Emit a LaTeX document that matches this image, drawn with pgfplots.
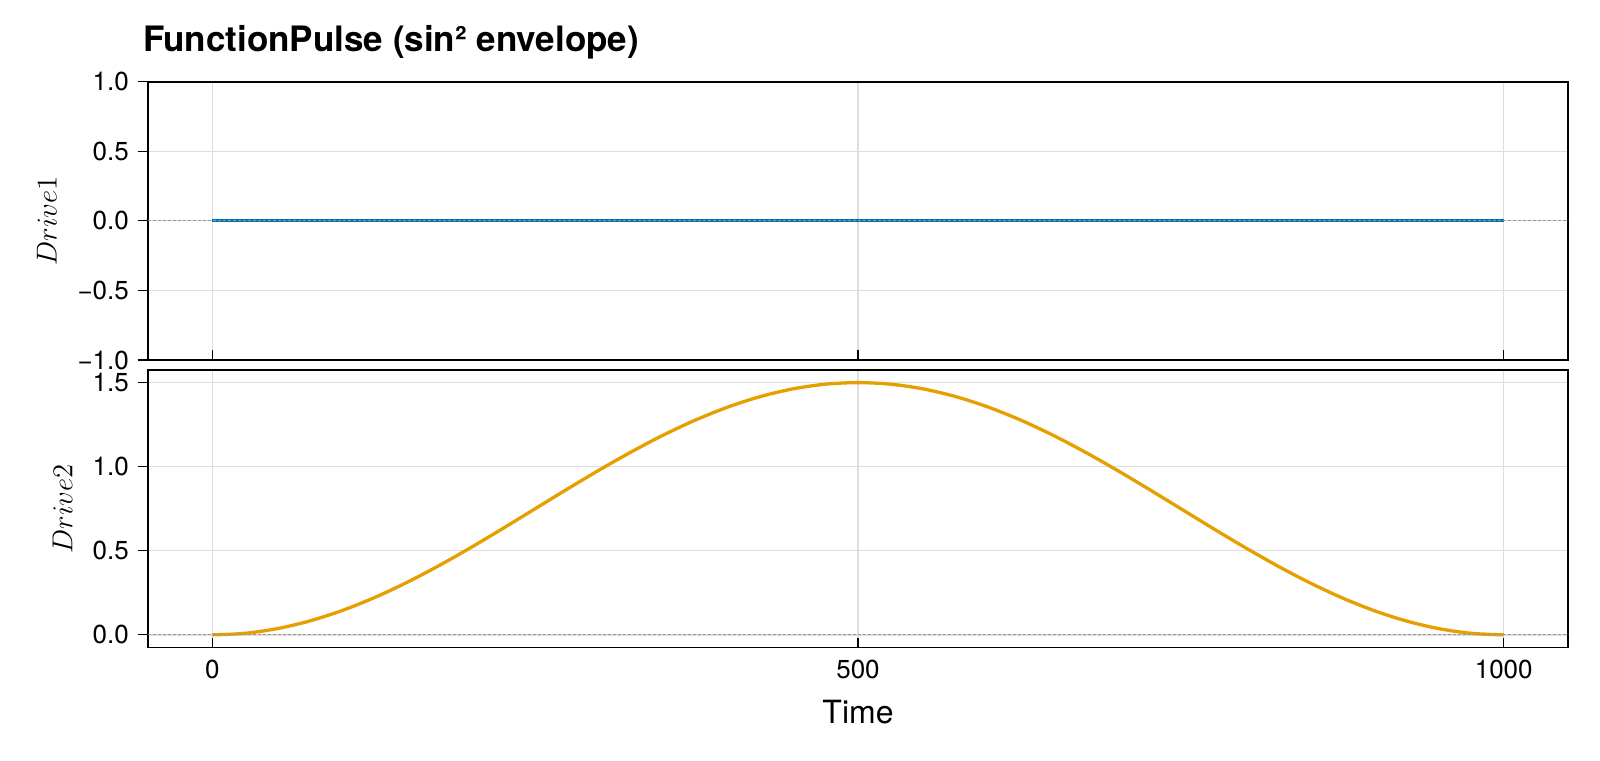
\documentclass[border=0pt]{standalone}
\usepackage{fontspec}
\setmainfont{TeX Gyre Heros}
\usepackage{pgfplots}
\pgfplotsset{compat=1.18}

\definecolor{mkblue}{RGB}{0,114,178}
\definecolor{mkorange}{RGB}{230,159,0}
\definecolor{gridgray}{RGB}{222,222,222}
\definecolor{zerogray}{RGB}{150,150,150}

% Drive2 envelope
\pgfplotstableread{
t v
0 0
25 0.00923
50 0.03671
75 0.08175
100 0.14324
125 0.21967
150 0.30917
175 0.40951
200 0.51824
225 0.63267
250 0.75
275 0.86733
300 0.98176
325 1.09049
350 1.19083
375 1.28033
400 1.35676
425 1.41825
450 1.46329
475 1.49077
500 1.5
525 1.49077
550 1.46329
575 1.41825
600 1.35676
625 1.28033
650 1.19083
675 1.09049
700 0.98176
725 0.86733
750 0.75
775 0.63267
800 0.51824
825 0.40951
850 0.30917
875 0.21967
900 0.14324
925 0.08175
950 0.03671
975 0.00923
1000 0
}\drivetwo

\pgfplotsset{
  mkaxis/.style={
    scale only axis, width=710.3pt,
    xmin=-50, xmax=1050,
    xtick={0,500,1000},
    xmajorgrids, ymajorgrids,
    major grid style={draw=gridgray, line width=0.65pt},
    axis line style={line width=0.9pt},
    xtick pos=bottom, ytick pos=left,
    xtick align=inside, ytick align=outside,
    major tick length=5pt,
    every tick/.style={black, line width=0.6pt},
    ticklabel style={font=\fontsize{13}{15.6}\selectfont},
    yticklabel style={xshift=-0.9pt},
    ylabel style={font=\fontsize{14.4}{17}\selectfont, anchor=center},
  },
  zeroline/.style={draw=zerogray, line width=0.5pt, dash pattern=on 1.5pt off 1pt},
}

\begin{document}
\begin{tikzpicture}
\path[use as bounding box] (0,0) rectangle (800pt,380pt);

\begin{axis}[mkaxis,
  at={(73.85pt,200pt)}, anchor=south west, height=139.15pt,
  ymin=-1, ymax=1,
  ytick={-1,-0.5,0,0.5,1},
  yticklabels={−1.0,−0.5,0.0,0.5,1.0},
  xticklabels={},
  ylabel={$Drive1$},
  ylabel style={at={(axis description cs:-0.0711,0.5)}},
  title={FunctionPulse (sin² envelope)},
  title style={at={(axis description cs:0,1)}, anchor=base west, inner sep=0pt,
    xshift=-2.5pt, yshift=9pt, font=\bfseries\fontsize{17.5}{21}\selectfont},
]
\addplot[mkblue, line width=1.65pt] coordinates {(0,0) (500,0) (1000,0)};
\addplot[zeroline] coordinates {(-50,0) (1050,0)};
\end{axis}

\begin{axis}[mkaxis,
  at={(73.85pt,56.25pt)}, anchor=south west, height=138.75pt,
  ymin=-0.075, ymax=1.575,
  ytick={0,0.5,1,1.5},
  yticklabels={0.0,0.5,1.0,1.5},
  xticklabels={0,500,1000},
  xticklabel style={yshift=-2.8pt},
  ylabel={$Drive2$},
  ylabel style={at={(axis description cs:-0.060,0.5)}},
  xlabel={Time},
  xlabel style={at={(axis description cs:0.5,-0.273)}, anchor=base,
    font=\fontsize{16}{19}\selectfont},
]
\addplot[mkorange, line width=1.65pt, smooth] table[x=t, y=v] {\drivetwo};
\addplot[zeroline] coordinates {(-50,0) (1050,0)};
\end{axis}
\end{tikzpicture}
\end{document}
